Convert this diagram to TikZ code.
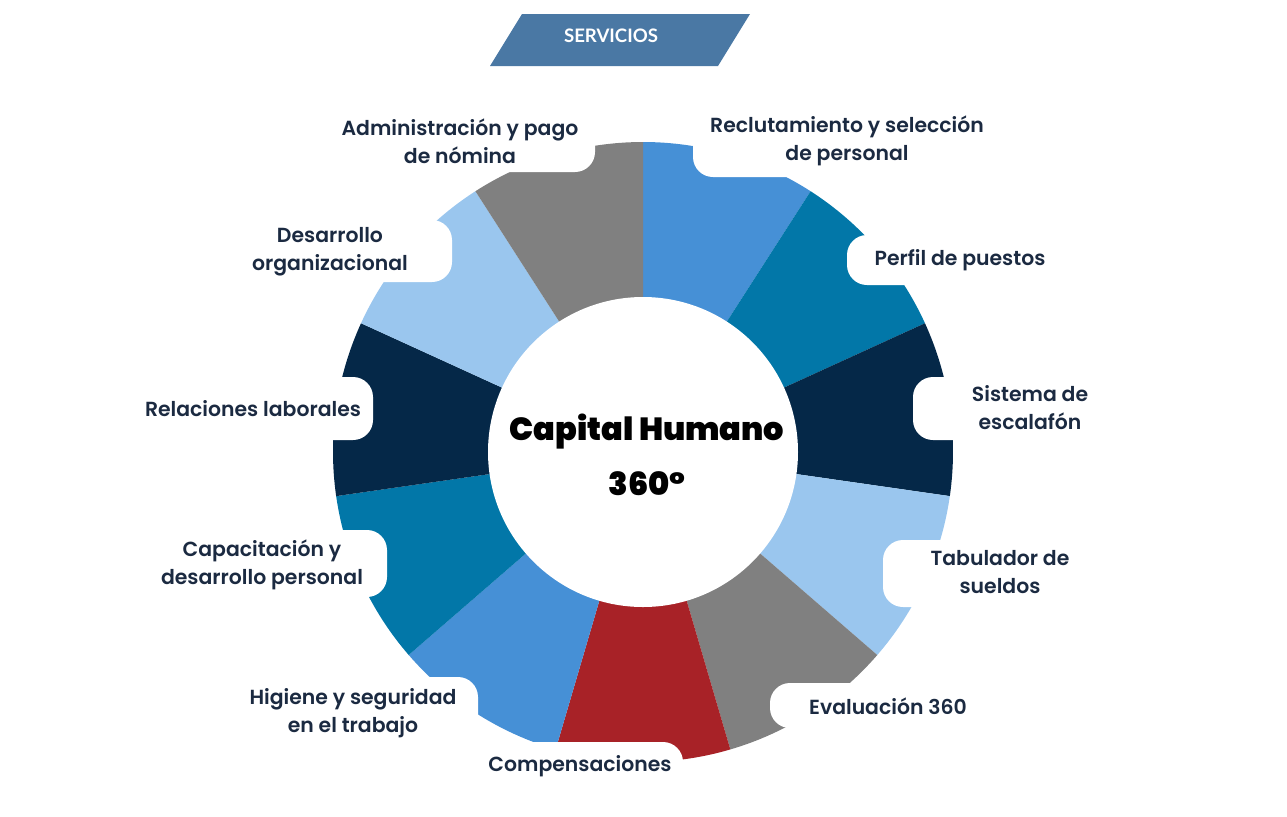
\documentclass[tikz,border=0pt]{standalone}
\usepackage{fontspec}
\setmainfont{Poppins}[UprightFont=* SemiBold, BoldFont=* Black]
\newfontfamily\bannerfont{Lato}
\usepackage{tikz}
\definecolor{segblue}{HTML}{4690D6}
\definecolor{segteal}{HTML}{0277A8}
\definecolor{segnavy}{HTML}{052848}
\definecolor{seglight}{HTML}{9AC6EE}
\definecolor{seggray}{HTML}{808080}
\definecolor{segred}{HTML}{A82227}
\definecolor{txtnavy}{HTML}{1B2A41}
\definecolor{bannerblue}{HTML}{4A78A4}
\tikzset{tab/.style={fill=white, rounded corners=10pt},
%labels round the wheel
lbl/.style={text=txtnavy, align=center, inner sep=0pt, font=\fontsize{10.2}{14}\selectfont}}

\begin{document}
\begin{tikzpicture}[x=0.5pt,y=-0.5pt]
\useasboundingbox (0,0) rectangle (1287,816);
\coordinate (hub) at (643,452);

% wheel
\foreach \col [count=\i from 0] in {segblue,segteal,segnavy,seglight,seggray,segred,segblue,segteal,segnavy,seglight,seggray}
     \fill[\col] (hub) -- ++({-90+\i*360/11}:310) arc[start angle={-90+\i*360/11}, delta angle={360/11}, radius=310] -- cycle;
\fill[white] (hub) circle[radius=155];

% tabs
\foreach \xa/\ya/\xb/\yb in {320/100/595/172, 693/100/1000/177, 240/220/452/282, 847/235/1080/285, 120/377/373/440, 913/377/1120/440, 140/530/387/597, 883/540/1100/607, 230/677/478/755, 770/683/1000/728, 478/742/683/805}
     \fill[tab] (\xa,\ya) rectangle (\xb,\yb);

%labels
\node[lbl] (admin) at (460,141) {Administración y pago\\de nómina};
\node[lbl] (reclut) at (847,141) {Reclutamiento y selección\\de personal};
\node[lbl] (desorg) at (330,252) {Desarrollo\\organizacional};
\node[lbl] (perfil) at (960,260) {Perfil de puestos};
\node[lbl] (relac) at (253,409) {Relaciones laborales};
\node[lbl] (escalafon) at (1030,408) {Sistema de\\escalafón};
\node[lbl] (capac) at (262,565) {Capacitación y\\desarrollo personal};
\node[lbl] (tabul) at (1000,572) {Tabulador de\\sueldos};
\node[lbl] (higiene) at (353,713) {Higiene y seguridad\\en el trabajo};
\node[lbl] (evalua) at (888,706) {Evaluación 360};
\node[lbl] (compens) at (580,766) {Compensaciones};

\node[align=center, font=\fontsize{16}{27.5}\selectfont\bfseries] (capital) at (647,455) {Capital Humano\\360°};

% banner
\fill[bannerblue] (522,14) -- (750,14) -- (718,66) -- (490,66) -- cycle;
\node[text=white, font=\bannerfont\fontsize{9.3}{10}\selectfont\bfseries] (servicios) at (611,36) {SERVICIOS};
\end{tikzpicture}
\end{document}
